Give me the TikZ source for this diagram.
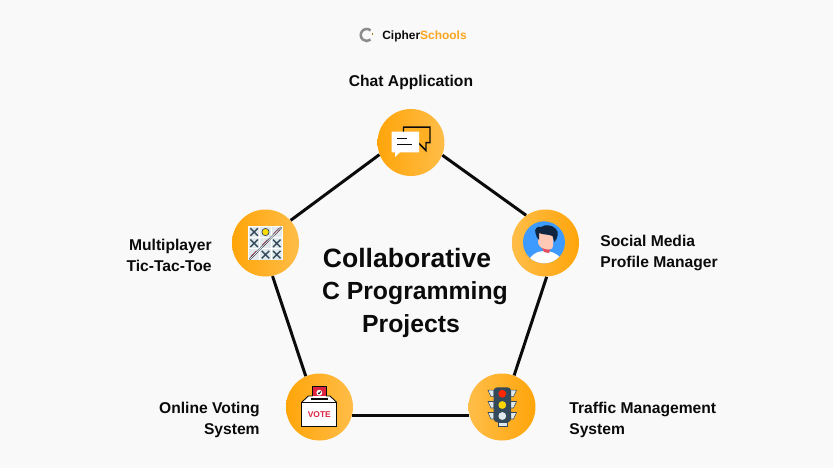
\documentclass[tikz,border=0pt]{standalone}
\usepackage{fontspec}
\setmainfont{Liberation Sans}
\definecolor{paper}{HTML}{F9F9F9}
\definecolor{amberL}{HTML}{FFA50A}
\definecolor{amberR}{HTML}{FFBD48}
\definecolor{logoOrange}{HTML}{F9A51E}
\definecolor{inkDark}{HTML}{0B0B0B}
\definecolor{slate}{HTML}{34495A}
\definecolor{cellBlue}{HTML}{E0E9EC}
\definecolor{faceSkin}{HTML}{FFC9B5}
\definecolor{hairNavy}{HTML}{0F2540}
\definecolor{skyBlue}{HTML}{3D9BFF}
\definecolor{voteRed}{HTML}{DC2440}
\tikzset{
  badgeL/.style={circle,minimum size=1.34cm,inner sep=0pt,left color=amberL,right color=amberR},
  badgeR/.style={circle,minimum size=1.34cm,inner sep=0pt,left color=amberR,right color=amberL},
  caption/.style={font=\fontsize{8.9}{12}\selectfont\bfseries,text=inkDark,inner sep=0pt},
  heading/.style={inner sep=0pt,text=inkDark,font=\fontsize{14.1}{18.8}\selectfont\bfseries},
  link/.style={draw=inkDark,line width=1.7pt}
}
\begin{document}
\begin{tikzpicture}[x=0.02cm,y=-0.02cm]
\fill[paper] (0,0) rectangle (833,468);
\useasboundingbox (0,0) rectangle (833,468);
% badges
\node[badgeL] (chat) at (411,142.5) {};
\node[badgeL] (game) at (265.5,243) {};
\node[badgeR] (social) at (545.5,243) {};
\node[badgeL] (voting) at (319.5,407) {};
\node[badgeR] (traffic) at (502,407) {};
% pentagon
\draw[link] (chat.-22) -- (social.125);
\draw[link] (social.-88) -- (traffic.69);
\draw[link] (traffic.195) -- (voting.-15);
\draw[link] (voting.114) -- (game.-78);
\draw[link] (game.42) -- (chat.201);
% logo
\draw[line width=1.45pt,color=gray!90] (370.6,30.4) arc (-50:-310:6);
\draw[line width=0.6pt,color=logoOrange!70!black] (372.6,32.5) arc (-25:25:2.8);
\node[inner sep=0pt,anchor=west,font=\fontsize{6.8}{8}\selectfont\bfseries] (logo) at (382,36.2) {\textcolor{inkDark}{Cipher}\textcolor{logoOrange}{Schools}};
% labels
\node[caption] (chatLabel) at (411,82) {Chat Application};
\node[caption,anchor=east,align=right] (gameLabel) at (212,255) {Multiplayer\\Tic-Tac-Toe};
\node[caption,anchor=west,align=left] (socialLabel) at (600,253) {Social Media\\Profile Manager};
\node[caption,anchor=east,align=right] (votingLabel) at (260,420) {Online Voting\\System};
\node[caption,anchor=west,align=left] (trafficLabel) at (569,420) {Traffic Management\\System};
\node[heading,font=\fontsize{15.1}{18.8}\selectfont\bfseries] (titleA) at (407,258.5) {Collaborative};
\node[heading] (titleB) at (415,293) {C Programming};
\node[heading] (titleC) at (411,326) {Projects};
% chat icon
\draw[line width=0.85pt,fill=amberL!60!amberR,draw=inkDark,line join=miter] (403.5,127) -- (430,127) -- (430,142.5) -- (426,142.5) -- (426,150.5) -- (418,142.5) -- (403.5,142.5) -- cycle;
\fill[white] (391.7,131.7) -- (419,131.7) -- (419,152.3) -- (400,152.3) -- (395,157) -- (395,152.3) -- (391.7,152.3) -- cycle;
\draw[line width=0.8pt,inkDark] (397.3,138.3) -- (406.7,138.3) (397.3,144.3) -- (411.7,144.3);
% tic-tac-toe icon
\fill[white] (248.3,226) rectangle (282.7,260);
\foreach \col in {0,1,2} \foreach \row in {0,1,2} {
  \fill[cellBlue] (249+11.3*\col,226.8+11.3*\row) rectangle ++(10.3,10.3);
}
\foreach \col/\row in {0/0,0/1,2/1,1/2,2/2} {
  \draw[slate,line width=0.8pt] (250.4+11.3*\col,228.2+11.3*\row) -- ++(7.5,7.5) ++(-7.5,0) -- ++(7.5,-7.5);
}
\draw[slate,fill=yellow!80!orange,line width=0.4pt] (265.5,232) circle (3.6);
\foreach \col/\row in {2/0,1/1,0/2} {
  \draw[voteRed!85!black,line width=1.3pt] (251.5+11.3*\col,234.5+11.3*\row) -- ++(5.5,-5.5);
}
\draw[slate,line width=1pt] (249.5,259.5) -- (281.5,227);
\draw[white,line width=0.35pt] (249.5,259.5) -- (281.5,227);
% profile icon
\fill[skyBlue] (544,242.3) circle (21);
\begin{scope}
  \clip (544,242.3) circle (21);
  \fill[white] (526,266) .. controls (530,254) and (538,251) .. (544,251) .. controls (552,251) and (561,254) .. (565,266) -- cycle;
\end{scope}
\fill[voteRed!75!faceSkin] (541,246) -- (551,246) -- (549,253) -- (544,252) -- cycle;
\fill[faceSkin] (538,230) -- (553,230) -- (553,246) .. controls (553,250) and (548,250) .. (545,249) .. controls (541,248) and (538,246) .. (538,241) -- cycle;
\fill[hairNavy] (535.5,233) .. controls (534,229) and (537,226) .. (541,227) .. controls (545,224) and (553,225) .. (556,229) .. controls (559,232) and (558,238) .. (554.5,242) -- (552.5,236) .. controls (548,234) and (543,235) .. (539,233) -- (539,240) .. controls (537,238) and (536,236) .. (535.5,233) -- cycle;
% vote icon
\fill[voteRed] (312.7,386) rectangle (326,398.5);
\draw[inkDark,line width=0.4pt] (312.7,398.5) -- (312.7,386) -- (326,386) -- (326,398.5);
\fill[white] (319.3,392.7) circle (2.9);
\draw[inkDark,line width=0.5pt] (318,392.8) -- (319,393.8) -- (320.8,391.5);
\fill[white] (301.7,402.3) -- (308.3,396) -- (330,396) -- (336.7,402.3) -- cycle;
\draw[inkDark,line width=0.5pt] (301.7,402.3) -- (308.3,396) -- (312.7,396) (326,396) -- (330,396) -- (336.7,402.3);
\draw[inkDark,line width=1pt] (311,398.7) -- (328,398.7);
\draw[inkDark,line width=0.5pt,fill=white] (301.7,402.3) rectangle (336.7,426);
\node[inner sep=0pt,text=voteRed,font=\fontsize{4.8}{5}\selectfont\bfseries] (voteText) at (319.3,415) {VOTE};
% traffic light icon
\foreach \ly in {393.7,405,416} {
  \draw[slate,line width=0.3pt,fill=cellBlue] (488,\ly-3.5) -- (494,\ly-3.5) -- (494,\ly+3) -- (491,\ly+3) -- cycle;
  \draw[slate,line width=0.3pt,fill=cellBlue] (516.5,\ly-3.5) -- (510.5,\ly-3.5) -- (510.5,\ly+3) -- (513.5,\ly+3) -- cycle;
}
\draw[slate,line width=0.3pt,fill=cellBlue] (498,422) rectangle (507,426);
\fill[slate,rounded corners=2pt] (493.7,387.3) rectangle (511,422.3);
\fill[red!70!orange] (502.3,393.7) circle (3.9);
\fill[yellow!75!orange] (502.3,405) circle (3.9);
\fill[cellBlue] (502.3,416) circle (3.9);
\end{tikzpicture}
\end{document}
